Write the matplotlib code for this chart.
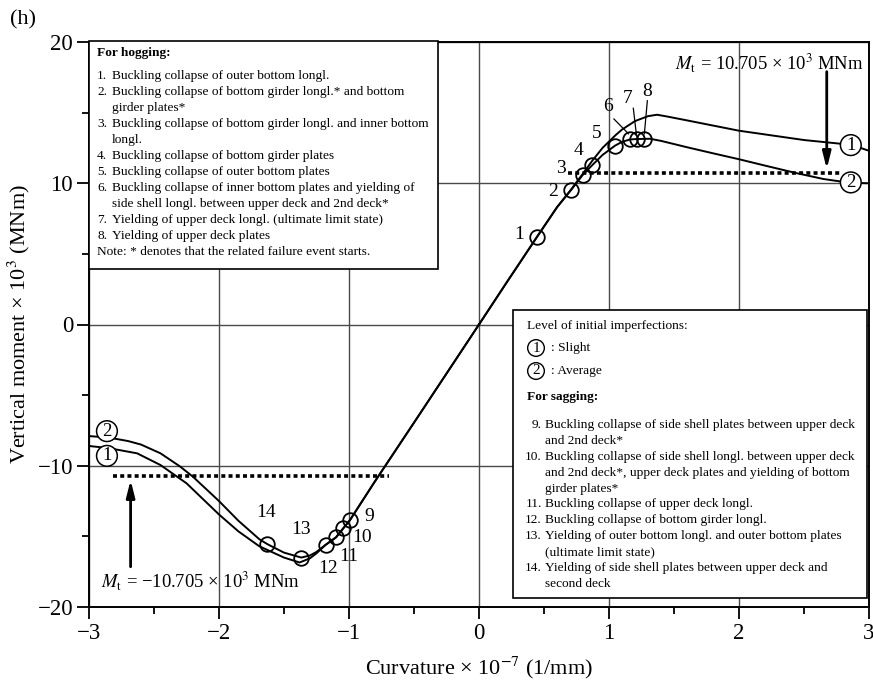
import matplotlib
matplotlib.use("Agg")
import matplotlib.pyplot as plt
from matplotlib.patches import Rectangle
from matplotlib.ticker import MultipleLocator

plt.rcParams["font.family"] = ["Liberation Serif", "DejaVu Serif"]
plt.rcParams["mathtext.fontset"] = "stix"
plt.rcParams["axes.unicode_minus"] = True

# ---- data: curvature (x 1e-7 1/mm) vs vertical moment (x 1e3 MNm) ----
# hogging branch, slight initial imperfection (1)
hog_slight_x = [0.0, 0.2, 0.446, 0.6, 0.708, 0.797, 0.872, 0.95, 1.0, 1.05, 1.1,
                1.2, 1.3, 1.37, 1.45, 1.6, 2.0, 2.5, 2.8, 2.87, 3.0]
hog_slight_y = [0.0, 2.8, 6.2, 8.3, 9.55, 10.65, 11.6, 12.5, 12.95, 13.4, 13.8,
                14.4, 14.75, 14.85, 14.72, 14.45, 13.72, 13.06, 12.78, 12.7, 12.3]
# hogging branch, average initial imperfection (2)
hog_avg_x = [0.0, 0.2, 0.446, 0.6, 0.708, 0.797, 0.872, 0.95, 1.046, 1.1, 1.162,
             1.213, 1.269, 1.315, 1.4, 1.6, 1.8, 2.0, 2.2, 2.44, 2.65, 2.8, 2.87, 3.0]
hog_avg_y = [0.0, 2.8, 6.2, 8.3, 9.52, 10.58, 11.29, 12.0, 12.66, 12.93, 13.1,
             13.13, 13.14, 13.15, 13.0, 12.55, 12.12, 11.7, 11.25, 10.72, 10.3, 10.1, 10.03, 10.0]
# sagging branch, slight initial imperfection (1)
sag_slight_x = [-3.0, -2.85, -2.63, -2.45, -2.25, -2.0, -1.85, -1.69, -1.5, -1.38,
                -1.3, -1.25, -1.18, -1.1, -1.044, -0.992, -0.8, -0.5, 0.0]
sag_slight_y = [-8.6, -8.75, -9.12, -9.95, -11.24, -13.45, -14.65, -15.7, -16.5, -16.85,
                -16.55, -16.2, -15.6, -15.07, -14.43, -13.84, -11.1, -6.95, 0.0]
# sagging branch, average initial imperfection (2)
sag_avg_x = [-3.0, -2.85, -2.7, -2.6, -2.45, -2.3, -2.2, -2.0, -1.85, -1.69, -1.628,
             -1.5, -1.367, -1.3, -1.25, -1.18, -1.1, -1.044, -0.992, -0.8, -0.5, 0.0]
sag_avg_y = [-7.9, -8.0, -8.25, -8.5, -9.12, -10.05, -10.78, -12.5, -13.9, -15.2, -15.55,
             -16.15, -16.5, -16.35, -16.1, -15.6, -15.07, -14.43, -13.84, -11.1, -6.95, 0.0]

# failure events 1-14
event_ids = ["1", "2", "3", "4", "5", "6", "7", "8", "9", "10", "11", "12", "13", "14"]
event_x = [0.446, 0.708, 0.797, 0.872, 1.046, 1.162, 1.213, 1.269,
           -0.992, -1.044, -1.1, -1.18, -1.367, -1.628]
event_y = [6.2, 9.52, 10.58, 11.29, 12.66, 13.13, 13.13, 13.13,
           -13.84, -14.43, -15.07, -15.6, -16.5, -15.55]

# target moments
mt_hog = 10.705
mt_sag = -10.705

x_ticks = [-3, -2, -1, 0, 1, 2, 3]
y_ticks = [-20, -10, 0, 10, 20]

hog_notes = [
    ("1.", ["Buckling collapse of outer bottom longl."]),
    ("2.", ["Buckling collapse of bottom girder longl.* and bottom", "girder plates*"]),
    ("3.", ["Buckling collapse of bottom girder longl. and inner bottom", "longl."]),
    ("4.", ["Buckling collapse of bottom girder plates"]),
    ("5.", ["Buckling collapse of outer bottom plates"]),
    ("6.", ["Buckling collapse of inner bottom plates and yielding of",
            "side shell longl. between upper deck and 2nd deck*"]),
    ("7.", ["Yielding of upper deck longl. (ultimate limit state)"]),
    ("8.", ["Yielding of upper deck plates"]),
]
sag_notes = [
    ("9.", ["Buckling collapse of side shell plates between upper deck", "and 2nd deck*"]),
    ("10.", ["Buckling collapse of side shell longl. between upper deck",
             "and 2nd deck*, upper deck plates and yielding of bottom", "girder plates*"]),
    ("11.", ["Buckling collapse of upper deck longl."]),
    ("12.", ["Buckling collapse of bottom girder longl."]),
    ("13.", ["Yielding of outer bottom longl. and outer bottom plates", "(ultimate limit state)"]),
    ("14.", ["Yielding of side shell plates between upper deck and", "second deck"]),
]

# ---- figure ----
W, H = 873, 687
L, R, T, B = 89, 869, 42, 607
fig = plt.figure(figsize=(W / 100, H / 100), dpi=100)
ax = fig.add_axes([L / W, 1 - B / H, (R - L) / W, (B - T) / H])


def axf(x, y):
    """pixel position -> axes fraction"""
    return (x - L) / (R - L), (B - y) / (B - T)


ax.set_xlim(-3, 3)
ax.set_ylim(-20, 20)
ax.set_xticks(x_ticks)
ax.set_yticks(y_ticks)
ax.xaxis.set_minor_locator(MultipleLocator(0.5))
ax.yaxis.set_minor_locator(MultipleLocator(5))
ax.tick_params(which="major", direction="out", length=8.5, width=1.3, labelsize=16.5, pad=3)
ax.tick_params(which="minor", direction="out", length=5, width=1.3)
for s in ax.spines.values():
    s.set_linewidth(1.4)
ax.grid(True, which="major", color="#4a4a4a", lw=1.0, zorder=0)
ax.set_axisbelow(True)

ax.set_xlabel("Curvature \u00d7 10$^{\u22127}$ (1/mm)", fontsize=16, labelpad=8)
ax.set_ylabel("Vertical moment \u00d7 10$^3$ (MNm)", fontsize=16, labelpad=4)
fig.text(23 / W, 1 - 20 / H, "(h)", fontsize=16, ha="center", va="center")

# curves
kw = dict(color="black", lw=1.4, zorder=4)
ax.plot(hog_slight_x, hog_slight_y, **kw)
ax.plot(hog_avg_x, hog_avg_y, **kw)
ax.plot(sag_slight_x, sag_slight_y, **kw)
ax.plot(sag_avg_x, sag_avg_y, **kw)

# failure event markers
ax.plot(event_x, event_y, ls="none", marker="o", ms=10.5, mfc="none",
        mec="black", mew=1.3, zorder=5)

# event numbers
label_pos = [(0.31, 6.4), (0.567, 9.4), (0.633, 11.06), (0.769, 12.3), (0.905, 13.54),
             (0.99, 15.42), (1.141, 16.0), (1.295, 16.48),
             (-0.844, -13.56), (-0.902, -15.09), (-1.005, -16.44), (-1.159, -17.26),
             (-1.372, -14.5), (-1.641, -13.3)]
for lab, (lx, ly) in zip(event_ids, label_pos):
    ax.text(lx, ly, lab, fontsize=14, ha="center", va="center", zorder=6)

# leader lines for 6, 7, 8
leaders = [((1.038, 14.55), (1.15, 13.5)), ((1.187, 15.31), (1.21, 13.5)),
           ((1.295, 15.84), (1.272, 13.5))]
for (x0, y0), (x1, y1) in leaders:
    ax.plot([x0, x1], [y0, y1], color="black", lw=0.9, zorder=5)

# target moment lines
dot = dict(color="black", lw=2.6, ls=(0, (1.1, 0.9)), dash_capstyle="butt", zorder=4)
ax.plot([0.687, 2.79], [mt_hog, mt_hog], **dot)
ax.plot([-2.813, -0.69], [mt_sag, mt_sag], **dot)

arrow = dict(arrowstyle="-|>,head_length=1.0,head_width=0.25", lw=2.0, color="black",
             shrinkA=0, shrinkB=0)
ax.annotate("", xy=(2.675, mt_hog + 0.3), xytext=(2.675, 17.9), arrowprops=arrow, zorder=5)
ax.annotate("", xy=(-2.68, mt_sag - 0.3), xytext=(-2.68, -17.15), arrowprops=arrow, zorder=5)
ax.text(2.23, 18.55, "$M_\\mathrm{t}$ = 10.705 \u00d7 10$^3$ MNm", fontsize=13.4,
        ha="center", va="center", zorder=6)
ax.text(-2.14, -18.15, "$M_\\mathrm{t}$ = \u221210.705 \u00d7 10$^3$ MNm", fontsize=13.4,
        ha="center", va="center", zorder=6)

# circled curve identifiers
circ = dict(boxstyle="circle,pad=0.1", fc="white", ec="black", lw=1.1)
for (cx, cy, lab) in [(2.86, 12.7, "1"), (2.86, 10.06, "2"),
                      (-2.862, -7.55, "2"), (-2.862, -9.3, "1")]:
    ax.text(cx, cy, lab, fontsize=13.5, ha="center", va="center", bbox=circ, zorder=6)

# ---- hogging notes box ----
x0, y0 = axf(89, 269)
x1, y1 = axf(438, 41)
ax.add_patch(Rectangle((x0, y0), x1 - x0, y1 - y0, transform=ax.transAxes,
                       fc="white", ec="black", lw=1.2, zorder=7, clip_on=False))
fs = 9.6
ax.text(*axf(97, 53), "For hogging:", fontsize=fs, fontweight="bold",
        va="center", ha="left", transform=ax.transAxes, zorder=8)
yy = 76.0
for num, lines in hog_notes:
    ax.text(*axf(97, yy), num, fontsize=fs, va="center", ha="left",
            transform=ax.transAxes, zorder=8)
    for ln in lines:
        ax.text(*axf(112, yy), ln, fontsize=fs, va="center", ha="left",
                transform=ax.transAxes, zorder=8)
        yy += 16.0
ax.text(*axf(97, yy), "Note: * denotes that the related failure event starts.",
        fontsize=fs, va="center", ha="left", transform=ax.transAxes, zorder=8)

# ---- sagging / legend box ----
x0, y0 = axf(513, 598)
x1, y1 = axf(867, 310)
ax.add_patch(Rectangle((x0, y0), x1 - x0, y1 - y0, transform=ax.transAxes,
                       fc="white", ec="black", lw=1.2, zorder=7, clip_on=False))
ax.text(*axf(527, 326), "Level of initial imperfections:", fontsize=fs,
        va="center", ha="left", transform=ax.transAxes, zorder=8)
for yy, lab, desc in [(348, "1", ": Slight"), (371, "2", ": Average")]:
    ax.text(*axf(536, yy), lab, fontsize=11, va="center", ha="center",
            bbox=dict(boxstyle="circle,pad=0.12", fc="white", ec="black", lw=1.0),
            transform=ax.transAxes, zorder=8)
    ax.text(*axf(551, yy), desc, fontsize=fs, va="center", ha="left",
            transform=ax.transAxes, zorder=8)
ax.text(*axf(527, 397), "For sagging:", fontsize=fs, fontweight="bold",
        va="center", ha="left", transform=ax.transAxes, zorder=8)
yy = 425.0
for num, lines in sag_notes:
    ax.text(*axf(542, yy), num, fontsize=fs, va="center", ha="right",
            transform=ax.transAxes, zorder=8)
    for ln in lines:
        ax.text(*axf(545, yy), ln, fontsize=fs, va="center", ha="left",
                transform=ax.transAxes, zorder=8)
        yy += 15.9

fig.savefig("out.png", dpi=100)
